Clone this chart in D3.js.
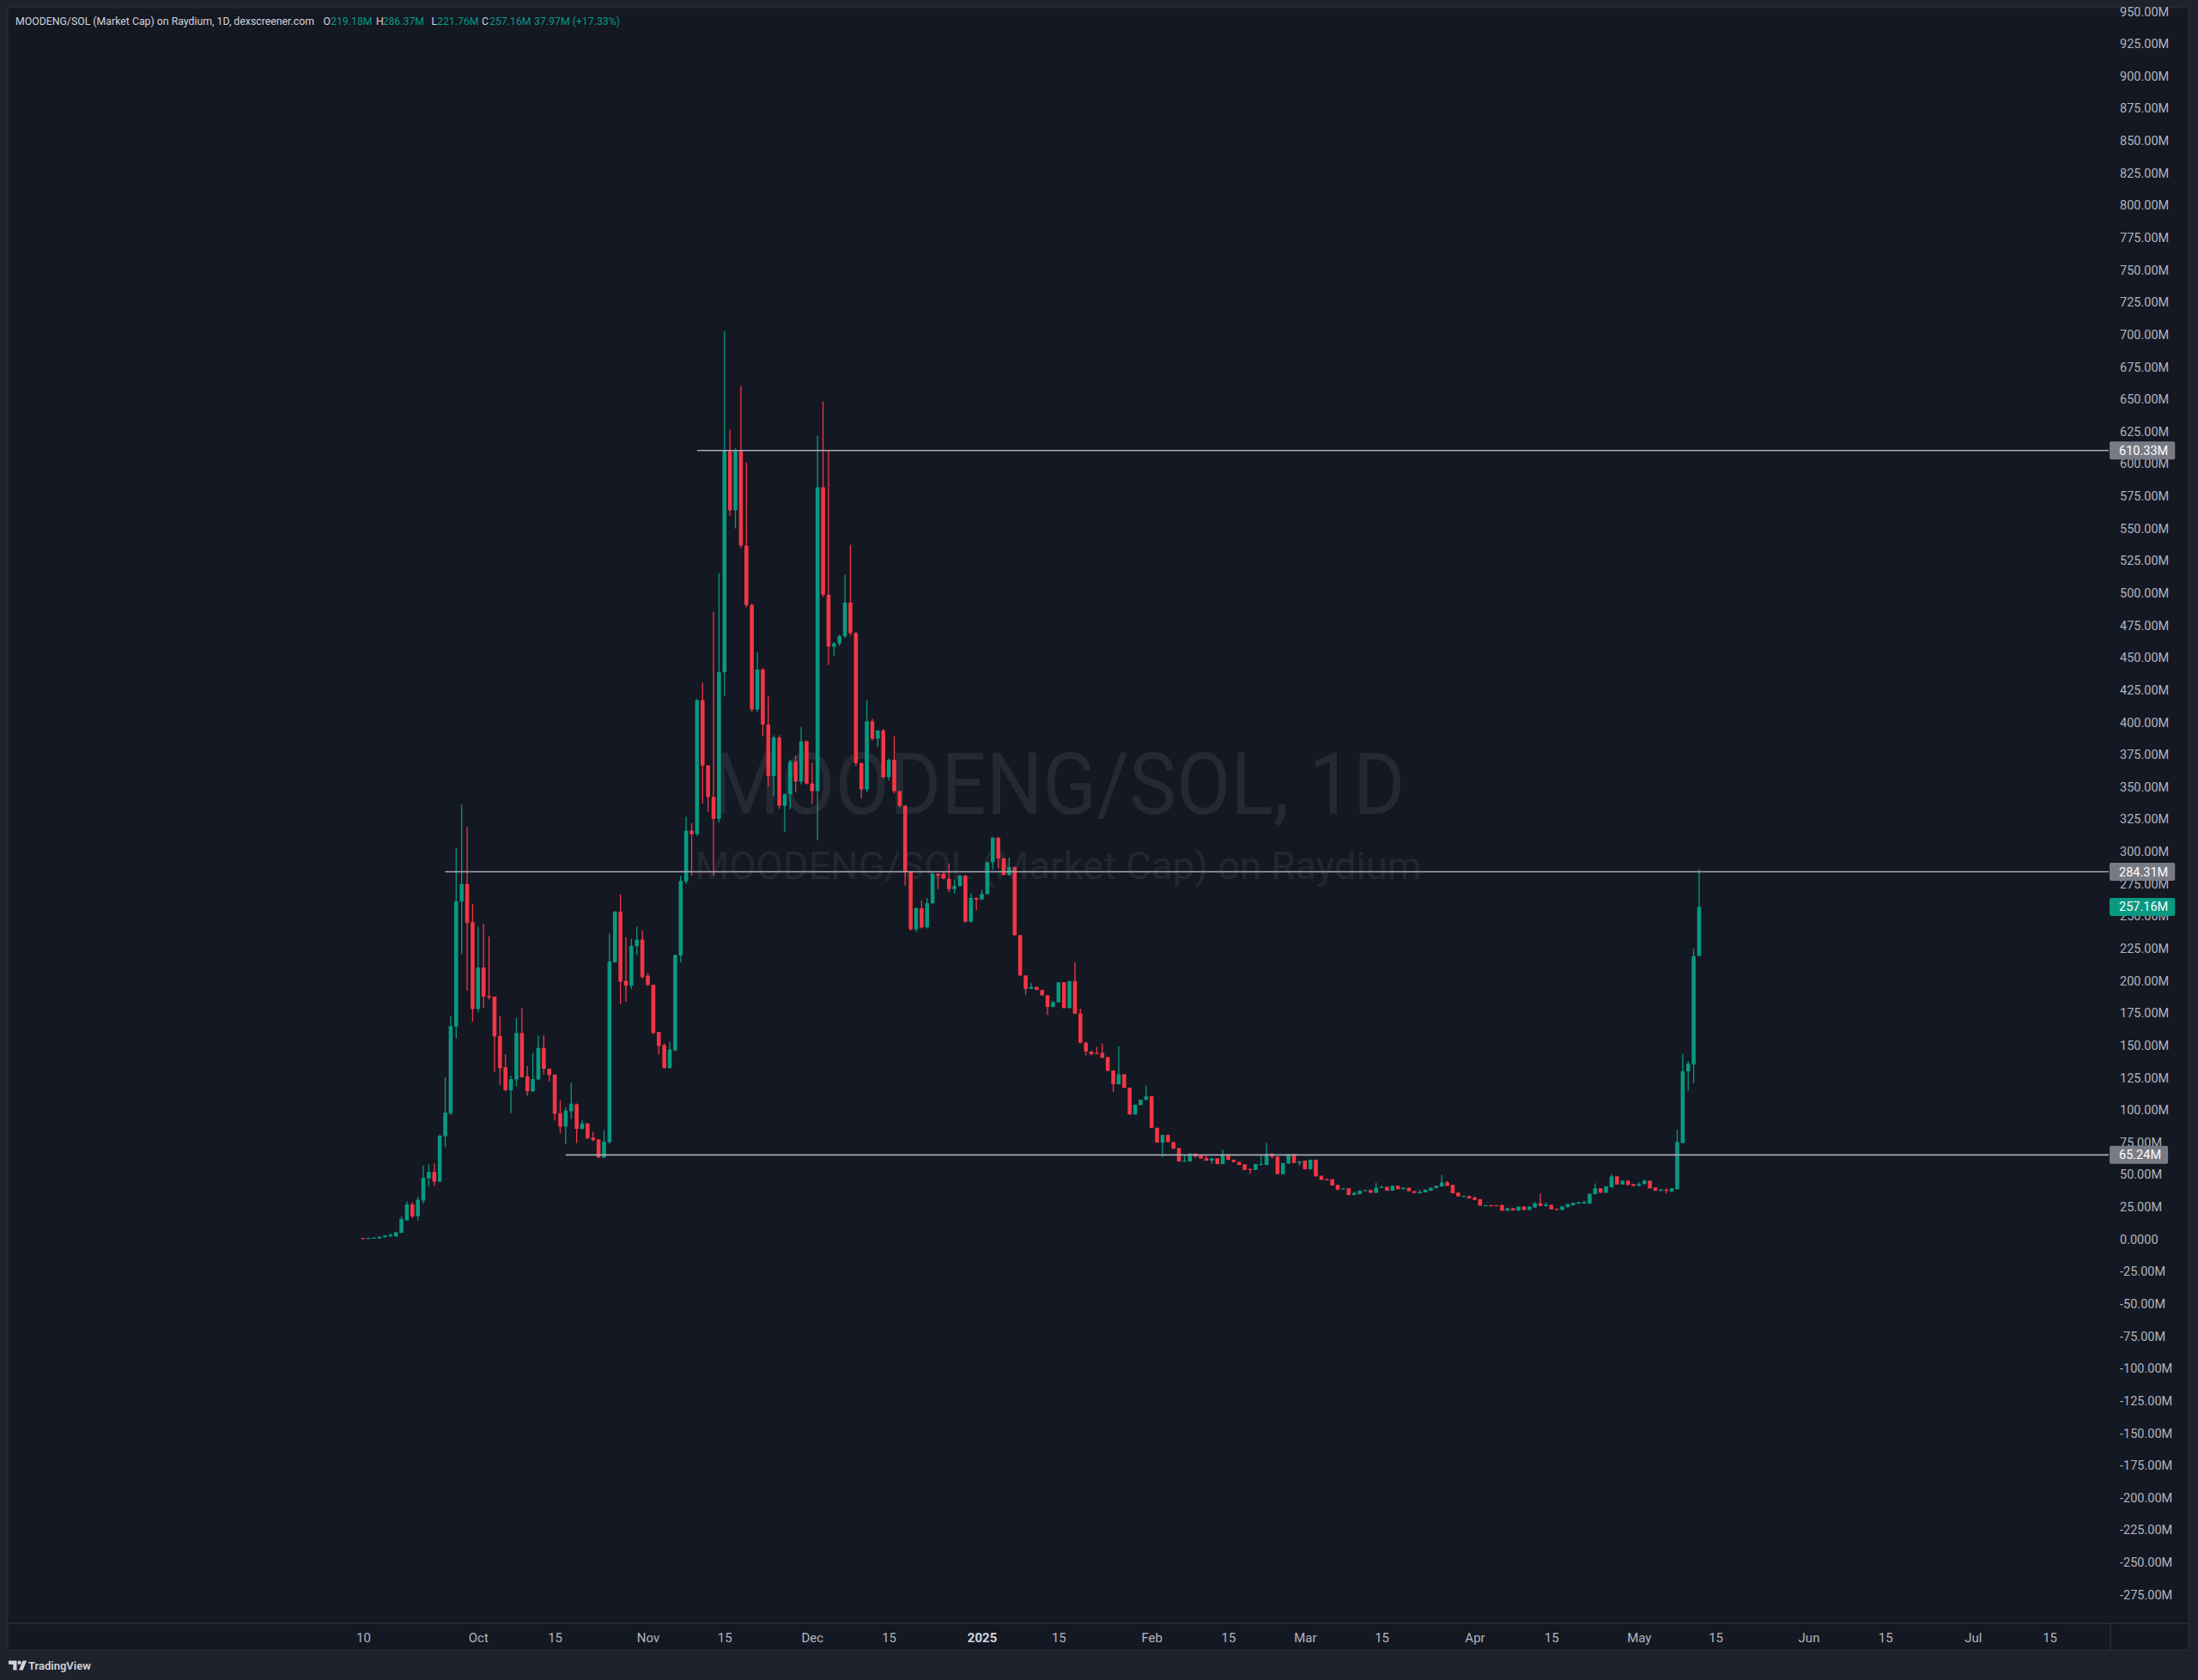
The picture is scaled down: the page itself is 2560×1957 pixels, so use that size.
<!DOCTYPE html>
<html><head><meta charset="utf-8">
<script src="https://cdn.jsdelivr.net/npm/d3@7"></script>
<style>
html,body{margin:0;padding:0;background:#1e222d;}
svg{display:block;}
text{font-family:Roboto,"Noto Sans",sans-serif;}
</style></head><body>
<svg id="c" width="2560" height="1957"></svg>
<script>
// ---------- DATA ----------
const firstDate = "2024-09-10"; // daily candles, one per day
const opens = [0.8,0.5,1.0,0.6,1.6,2.2,2.2,5.0,14.6,27.0,
17.8,29.9,47.2,52.2,44.6,79.7,97.6,164.5,261.2,274.9,
245.4,178.2,210.3,188.1,187.6,157.3,133.1,115.2,123.7,159.6,
126.0,114.5,123.7,148.0,131.9,127.3,97.6,87.2,99.0,104.4,
85.4,89.5,78.5,77.2,63.2,75.1,214.4,253.4,200.0,196.1,
226.8,231.8,203.9,196.8,160.3,150.3,132.4,146.1,219.5,276.9,
316.1,313.4,417.0,366.5,342.2,325.3,438.7,610.3,564.0,610.3,
536.7,490.7,409.9,440.8,398.3,358.5,388.2,335.4,344.3,369.5,
354.1,385.3,352.6,346.7,581.8,498.7,458.6,461.0,466.6,492.7,
469.0,368.3,348.1,400.7,387.3,393.6,357.6,371.0,346.7,335.4,
284.3,239.8,256.1,241.3,260.0,282.8,282.8,279.0,270.9,273.3,
281.3,245.7,264.1,262.9,267.1,291.7,310.7,294.7,281.9,287.9,
235.3,204.1,193.7,195.2,192.9,188.7,179.8,183.4,198.8,178.9,
199.7,174.7,152.1,145.3,144.2,144.2,140.9,130.5,119.9,127.6,
117.2,96.6,103.9,107.9,110.6,86.2,74.8,80.7,75.2,70.5,
60.2,60.2,66.3,64.8,62.6,60.8,62.6,58.2,65.7,61.5,
59.7,57.9,54.4,53.7,57.5,57.5,66.3,63.9,50.4,58.6,
65.7,59.0,60.8,54.2,61.5,49.1,46.4,46.4,42.0,38.7,
39.4,34.3,34.9,37.6,38.0,36.0,39.8,40.5,37.6,41.4,
38.7,39.8,37.2,35.6,36.3,37.6,39.6,40.9,44.0,42.0,
36.0,33.0,33.4,32.3,31.0,25.8,26.3,26.3,26.5,22.1,
24.0,22.2,25.2,22.7,24.6,27.8,25.6,26.6,23.6,22.7,
24.8,26.3,27.6,27.6,27.6,34.9,39.4,36.0,40.2,48.6,
42.4,45.3,42.7,41.3,42.7,45.3,40.0,37.4,38.3,36.9,
38.7,74.5,129.9,135.4,219.18];
const highs = [1.2,1.3,1.4,2.2,3.2,4.7,5.8,17.5,29.3,28.8,
32.7,56.8,57.9,58.6,81.0,125.5,172.5,302.6,336.3,319.1,
259.6,241.9,244.0,234.4,188.0,172.5,143.1,126.6,171.3,178.9,
134.0,144.3,157.6,157.6,132.0,127.5,107.4,102.1,121.0,105.0,
92.3,90.0,83.1,77.5,84.3,236.6,254.0,266.9,233.7,232.5,
241.9,238.9,206.2,197.0,160.5,151.4,152.8,220.5,281.3,326.8,
322.0,418.0,430.7,367.0,485.6,515.3,702.7,626.4,612.0,660.2,
601.1,492.0,454.2,442.0,420.0,390.0,390.0,345.0,371.0,374.3,
396.5,386.0,368.6,621.9,648.3,610.3,462.0,468.0,514.1,537.3,
470.0,369.0,417.0,402.8,394.0,395.0,372.0,389.1,347.0,336.0,
285.0,257.0,262.0,264.1,283.5,283.0,284.3,290.8,278.4,282.0,
282.0,267.7,264.5,270.4,292.0,311.0,311.0,295.0,295.3,288.3,
235.5,204.3,198.2,195.4,193.0,189.0,184.5,199.0,199.0,200.0,
214.5,178.5,152.6,145.5,148.8,151.3,141.0,130.7,149.3,127.8,
117.5,104.1,108.1,119.0,110.8,86.4,81.0,81.0,75.5,70.7,
64.8,66.5,66.5,65.0,64.8,62.8,62.8,69.2,65.9,61.7,
59.9,58.1,54.6,58.4,64.8,74.5,66.5,64.1,59.2,65.9,
66.3,60.4,61.0,61.7,61.7,49.3,47.1,46.6,42.2,39.6,
39.6,36.9,37.8,38.2,38.2,43.6,41.4,40.7,41.6,41.6,
40.0,40.0,37.4,38.2,38.5,40.0,41.6,49.8,45.1,42.2,
36.5,33.7,33.6,33.2,31.2,26.5,26.5,26.5,26.7,24.2,
24.2,25.4,25.4,25.4,28.7,35.5,28.5,26.8,23.8,25.5,
27.4,28.3,28.9,29.9,35.4,43.3,39.6,41.1,50.4,48.8,
45.5,45.5,42.9,44.2,46.0,45.5,40.2,38.7,39.4,39.6,
84.7,143.3,137.6,225.0,286.37];
const lows = [0.3,0.4,0.9,0.4,1.4,2.0,2.0,4.8,14.3,16.4,
14.6,27.4,40.5,41.2,44.0,71.2,96.0,155.3,220.6,192.4,
168.4,175.5,178.9,185.5,129.4,119.5,114.5,97.6,118.2,125.0,
111.1,114.0,123.0,127.6,121.8,91.8,82.0,73.7,93.0,74.4,
85.0,77.5,75.8,63.0,63.0,73.9,214.0,181.9,183.7,193.6,
219.9,201.6,196.0,159.0,143.1,132.0,132.0,145.5,214.2,275.0,
281.3,312.0,337.2,330.9,281.3,322.3,420.3,559.9,550.0,535.0,
489.0,408.0,408.0,389.1,350.2,342.5,333.0,315.2,332.7,345.8,
352.0,352.0,336.9,308.6,497.0,444.3,451.5,459.0,465.0,467.0,
366.0,341.3,346.0,386.0,380.8,356.8,355.0,345.0,334.0,273.6,
239.0,237.7,240.5,240.5,259.5,270.9,278.5,268.6,267.1,273.0,
245.0,245.0,254.6,262.5,266.5,285.8,287.3,281.5,281.5,235.0,
203.8,189.3,193.5,192.7,188.5,173.6,179.5,183.2,178.7,178.7,
174.3,151.5,142.2,142.2,143.3,140.2,130.1,113.9,119.7,117.0,
96.4,96.4,103.7,107.7,86.0,74.6,63.5,75.0,70.0,60.0,
60.0,60.0,63.0,62.2,60.6,58.2,58.0,58.0,61.3,59.5,
57.3,53.5,50.4,53.5,57.3,57.3,62.4,50.2,50.2,58.4,
58.8,56.8,54.0,54.0,48.5,45.8,45.8,41.4,38.1,38.5,
34.1,34.1,34.7,37.4,35.8,35.8,39.6,37.4,37.4,38.5,
38.5,37.0,35.6,35.4,36.1,37.4,39.4,40.7,41.1,35.4,
33.0,32.8,31.4,30.2,25.8,25.6,25.6,25.6,21.9,21.9,
22.1,22.0,22.5,22.5,24.4,25.6,25.4,23.0,22.8,22.5,
24.6,26.1,27.4,27.4,27.4,34.7,35.8,35.8,40.0,42.2,
42.2,41.8,41.1,41.1,42.5,39.2,37.4,37.2,35.4,36.7,
38.5,74.3,114.6,120.6,221.76];
const closes = [0.5,1.0,1.2,1.8,2.9,3.4,5.4,15.7,27.0,17.8,
30.6,47.6,52.2,44.6,80.1,98.0,165.0,261.4,274.9,244.7,
178.2,210.3,187.8,186.9,157.0,132.4,115.2,123.9,159.6,125.5,
114.5,123.9,148.0,131.9,127.1,97.1,87.2,99.6,104.9,85.4,
89.5,78.1,76.7,63.2,75.6,214.9,253.4,199.3,196.1,227.0,
231.8,202.9,196.8,159.6,149.6,132.4,146.8,219.9,277.2,316.1,
313.4,417.0,366.5,342.2,325.3,438.7,610.3,564.0,610.3,536.7,
490.7,409.9,440.8,398.3,358.5,388.2,335.4,344.3,369.5,354.1,
385.3,352.6,346.7,581.8,498.7,458.6,461.0,466.6,492.7,469.0,
368.3,348.1,400.7,387.3,393.6,357.6,371.0,346.7,335.4,284.3,
239.8,256.1,241.3,260.0,282.8,281.3,279.0,270.9,273.3,281.3,
245.7,264.1,262.9,267.1,291.7,310.7,294.7,281.9,287.9,235.3,
204.1,193.7,195.2,192.9,188.7,179.8,183.4,198.8,178.9,199.7,
174.5,152.1,145.3,143.3,143.5,140.4,130.3,119.9,127.6,117.2,
96.6,103.9,107.9,110.6,86.2,74.8,80.7,75.2,70.1,60.2,
60.8,66.3,64.1,62.4,60.8,62.6,58.2,65.7,61.5,59.7,
57.5,53.7,53.7,58.2,58.2,66.3,63.9,50.4,59.0,65.7,
59.0,60.2,54.2,61.5,48.7,46.0,46.0,41.6,38.3,39.4,
34.3,35.8,37.6,38.0,36.0,39.8,40.5,37.6,41.4,38.7,
39.8,37.2,35.8,36.6,38.3,39.8,41.4,44.0,41.3,35.6,
33.2,33.5,31.6,30.4,26.0,26.3,25.8,25.8,22.1,24.0,
22.3,25.2,22.7,25.2,27.8,25.8,26.7,23.2,23.0,25.3,
27.2,28.1,28.7,28.7,35.2,39.4,36.0,40.9,48.6,42.4,
45.3,42.0,41.3,42.7,45.3,39.4,37.6,38.3,37.6,39.4,
75.2,130.1,135.8,219.0,257.16];

const levelValues = [610.33, 284.31, 65.24];
const levelStartDates = ["2024-11-10", "2024-09-25", "2024-10-17"];
const lastPrice = 257.16;

const priceTicks = d3.range(-275, 951, 25);
const timeTickDates = ["2024-09-10","2024-10-01","2024-10-15","2024-11-01","2024-11-15","2024-12-01","2024-12-15","2025-01-01","2025-01-15","2025-02-01","2025-02-15","2025-03-01","2025-03-15","2025-04-01","2025-04-15","2025-05-01","2025-05-15","2025-06-01","2025-06-15","2025-07-01","2025-07-15"];
const timeTickLabels = ["10","Oct","15","Nov","15","Dec","15","2025","15","Feb","15","Mar","15","Apr","15","May","15","Jun","15","Jul","15"];

const headerTitle = "MOODENG/SOL (Market Cap) on Raydium, 1D, dexscreener.com";
const headerOHLC = [["O","219.18M"],["H","286.37M"],["L","221.76M"],["C","257.16M"]];
const headerChange = "37.97M (+17.33%)";
const watermarkTitle = "MOODENG/SOL, 1D";
const watermarkSub = "MOODENG/SOL (Market Cap) on Raydium";

// ---------- LAYOUT ----------
const W = 2560, H = 1957;
const paneL = 9, paneR = 2456, paneT = 9, paneB = 1891, frameR = 2549, frameB = 1922;
const UP = "#089981", DOWN = "#F23645";
const DAY = 864e5;
const parse = s => new Date(s + "T00:00:00Z");
const t0 = parse(firstDate).getTime();

const svg = d3.select("#c");
svg.append("rect").attr("width", W).attr("height", H).attr("fill", "#1e222d");
svg.append("rect").attr("x", paneL).attr("y", paneT).attr("width", frameR - paneL).attr("height", frameB - paneT)
  .attr("fill", "#141823").attr("stroke", "#2a2e39").attr("stroke-width", 1);

const x = d3.scaleUtc()
  .domain([new Date(t0 - 64.9 * DAY), new Date(t0 + 318.8 * DAY)])
  .range([paneL, paneR]);
const y = d3.scaleLinear().domain([-297.2, 952.9]).range([paneB, paneT]);

svg.append("defs").append("clipPath").attr("id", "pane")
  .append("rect").attr("x", paneL).attr("y", paneT).attr("width", paneR - paneL).attr("height", paneB - paneT);

// watermark
const cx = (paneL + paneR) / 2;
svg.append("text").attr("x", cx).attr("y", 948).attr("text-anchor", "middle")
  .attr("font-size", 100).attr("textLength", 808).attr("lengthAdjust", "spacingAndGlyphs")
  .attr("fill", "#252933").text(watermarkTitle);
svg.append("text").attr("x", cx).attr("y", 1024).attr("text-anchor", "middle")
  .attr("font-size", 44).attr("textLength", 846).attr("lengthAdjust", "spacingAndGlyphs")
  .attr("fill", "#23272f").text(watermarkSub);

// candles
const candles = opens.map((o, i) => ({
  date: new Date(t0 + i * DAY), o, h: highs[i], l: lows[i], c: closes[i]
}));
const bw = (x(new Date(t0 + DAY)) - x(new Date(t0))) * 0.72;
const g = svg.append("g").attr("clip-path", "url(#pane)");
const cg = g.selectAll("g.c").data(candles).join("g");
cg.append("line")
  .attr("x1", d => x(d.date)).attr("x2", d => x(d.date))
  .attr("y1", d => y(d.h)).attr("y2", d => y(d.l))
  .attr("stroke", d => d.c >= d.o ? UP : DOWN).attr("stroke-width", 1.3);
cg.append("rect")
  .attr("x", d => x(d.date) - bw / 2).attr("width", bw)
  .attr("y", d => y(Math.max(d.o, d.c)))
  .attr("height", d => Math.max(1.2, Math.abs(y(d.o) - y(d.c))))
  .attr("fill", d => d.c >= d.o ? UP : DOWN);

// horizontal levels
levelValues.forEach((v, i) => {
  svg.append("line").attr("x1", x(parse(levelStartDates[i]))).attr("x2", paneR)
    .attr("y1", y(v)).attr("y2", y(v)).attr("stroke", "#a6a9b3").attr("stroke-width", 1.6);
});

// price axis
const pa = svg.append("g").attr("transform", `translate(${paneR},0)`)
  .call(d3.axisRight(y).tickValues(priceTicks).tickSize(0).tickPadding(13)
    .tickFormat(v => v === 0 ? "0.0000" : v.toFixed(2) + "M"));
pa.select(".domain").remove();
pa.selectAll("text").attr("fill", "#b2b5be").attr("font-size", 14.5)
  .attr("font-family", 'Roboto,"Noto Sans",sans-serif');

// price labels (drawn over the tick labels, as in the reference)
function priceLabel(v, bg) {
  const gg = svg.append("g");
  const t = gg.append("text").attr("x", paneR + 12).attr("y", y(v)).attr("dy", "0.35em")
    .attr("font-size", 14.5).attr("fill", "#ffffff").text(v.toFixed(2) + "M");
  const w = t.node().getComputedTextLength();
  gg.insert("rect", "text").attr("x", paneR + 1).attr("y", y(v) - 10.5).attr("width", w + 19)
    .attr("height", 21).attr("rx", 2).attr("fill", bg);
}
levelValues.forEach(v => priceLabel(v, "#787b86"));
priceLabel(lastPrice, UP);

// time axis
svg.append("line").attr("x1", paneL).attr("x2", frameR).attr("y1", paneB).attr("y2", paneB)
  .attr("stroke", "#2a2e39").attr("stroke-width", 1.5);
svg.append("line").attr("x1", paneR + 2).attr("x2", paneR + 2).attr("y1", paneB).attr("y2", frameB)
  .attr("stroke", "#2a2e39").attr("stroke-width", 1.5);
const ta = svg.append("g").attr("transform", `translate(0,${paneB})`)
  .call(d3.axisBottom(x).tickValues(timeTickDates.map(parse)).tickSize(0).tickPadding(11)
    .tickFormat((d, i) => timeTickLabels[i]));
ta.select(".domain").remove();
ta.selectAll("text").attr("font-size", 15)
  .attr("font-family", 'Roboto,"Noto Sans",sans-serif')
  .attr("font-weight", (d, i) => timeTickLabels[i] === "2025" ? 700 : 400)
  .attr("fill", (d, i) => timeTickLabels[i] === "2025" ? "#d1d4dc" : "#b2b5be");

// header
const hd = svg.append("g").attr("font-size", 12.3);
hd.append("text").attr("x", 18).attr("y", 29).attr("fill", "#d1d4dc").text(headerTitle);
const keyX = [376.5, 438, 502.5, 561], valX = [385, 445.5, 509, 570];
headerOHLC.forEach((kv, i) => {
  hd.append("text").attr("x", keyX[i]).attr("y", 29).attr("fill", "#d1d4dc").text(kv[0]);
  hd.append("text").attr("x", valX[i]).attr("y", 29).attr("fill", UP).text(kv[1]);
});
hd.append("text").attr("x", 622).attr("y", 29).attr("fill", UP).text(headerChange);

// footer logo
const ft = svg.append("g").attr("fill", "#d1d4dc");
ft.append("path").attr("d", "M10 1934.5h9.5v11h-4.2v-6.8H10z");
ft.append("circle").attr("cx", 22.6).attr("cy", 1936.8).attr("r", 2.2);
ft.append("path").attr("d", "M26.5 1934.5h4.6l-4.4 11h-4.6z");
ft.append("text").attr("x", 33).attr("y", 1945).attr("font-size", 13).attr("font-weight", 600)
  .text("TradingView");
</script>
</body></html>
